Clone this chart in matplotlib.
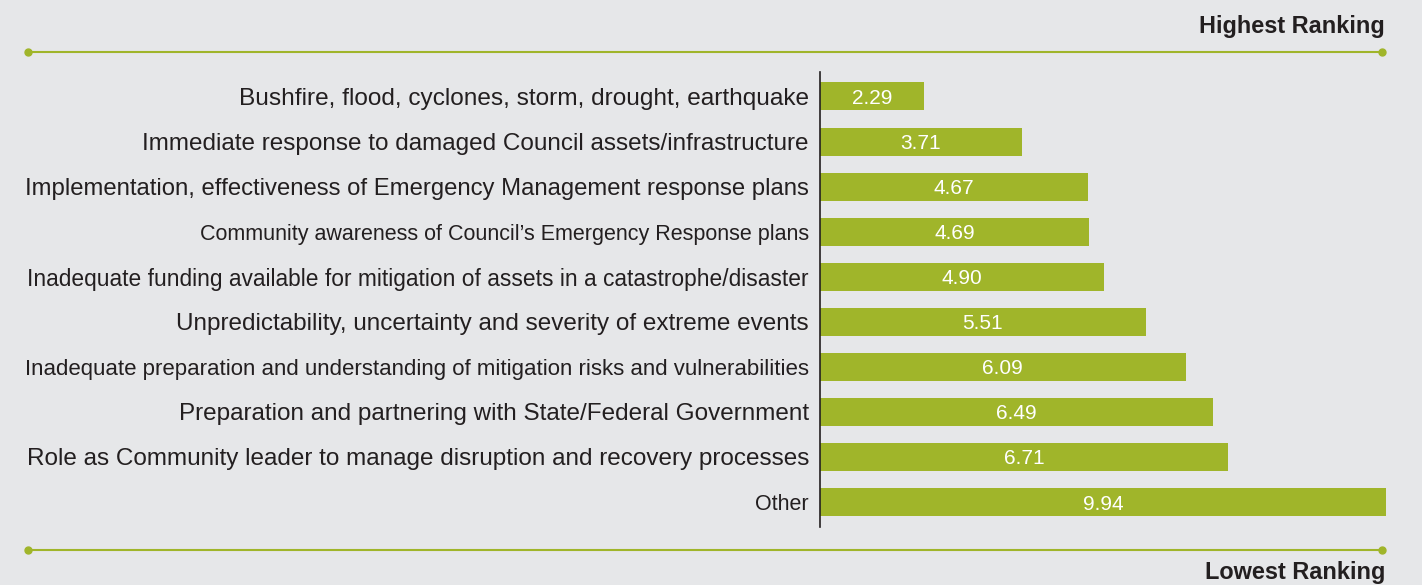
import numpy as np
import matplotlib
matplotlib.use("Agg")
import matplotlib.pyplot as plt
from matplotlib.lines import Line2D

plt.rcParams['font.family'] = ['Liberation Sans', 'DejaVu Sans']

labels = [
    "Bushfire, flood, cyclones, storm, drought, earthquake",
    "Immediate response to damaged Council assets/infrastructure",
    "Implementation, effectiveness of Emergency Management response plans",
    "Community awareness of Council\u2019s Emergency Response plans",
    "Inadequate funding available for mitigation of assets in a catastrophe/disaster",
    "Unpredictability, uncertainty and severity of extreme events",
    "Inadequate preparation and understanding of mitigation risks and vulnerabilities",
    "Preparation and partnering with State/Federal Government",
    "Role as Community leader to manage disruption and recovery processes",
    "Other",
]
scores = [2.29, 3.71, 4.67, 4.69, 4.90, 5.51, 6.09, 6.49, 6.71, 9.94]
label_sizes = [17.6, 17.5, 17.2, 15.5, 16.35, 17.5, 16.0, 17.5, 17.5, 15.5]

bg = '#e6e7e9'
green = '#a0b52a'
dark = '#231f20'

fig = plt.figure(figsize=(14.22, 5.85), dpi=100, facecolor=bg)
ax = fig.add_axes([820 / 1422, 1 - 527 / 585, (1386 - 820) / 1422, (527 - 72) / 585])
ax.set_facecolor(bg)

y = np.arange(len(labels))
ax.barh(y, scores, height=0.62, color=green)
xmin, xmax = 0.78, 9.0
ax.set_xlim(xmin, xmax)
ax.set_ylim(9.554, -0.543)

# value labels centred on the visible part of each bar
for yi, v in zip(y, scores):
    cx = (xmin + min(v, xmax)) / 2
    ax.text(cx, yi, f"{v:.2f}", color='white', fontsize=15, ha='center', va='center_baseline')

ax.set_yticks(y)
ax.set_yticklabels(labels, color=dark)
for t, s in zip(ax.get_yticklabels(), label_sizes):
    t.set_fontsize(s)
ax.tick_params(axis='y', length=0, pad=8)
ax.set_xticks([])
for sp in ['top', 'right', 'bottom']:
    ax.spines[sp].set_visible(False)
ax.spines['left'].set_color(dark)
ax.spines['left'].set_linewidth(1.2)

W, H = 1422, 585
for ypix in (52, 550):
    fig.add_artist(Line2D([28 / W, 1382 / W], [1 - ypix / H] * 2, color=green, lw=1.5,
                          marker='o', markersize=5, markevery=[0, 1]))

fig.text(1385 / W, 1 - 27 / H, "Highest Ranking", ha='right', va='center',
         fontsize=16.9, fontweight='bold', color=dark)
fig.text(1385 / W, 1 - 573 / H, "Lowest Ranking", ha='right', va='center',
         fontsize=16.9, fontweight='bold', color=dark)

fig.savefig('out.png', dpi=100, facecolor=bg)
